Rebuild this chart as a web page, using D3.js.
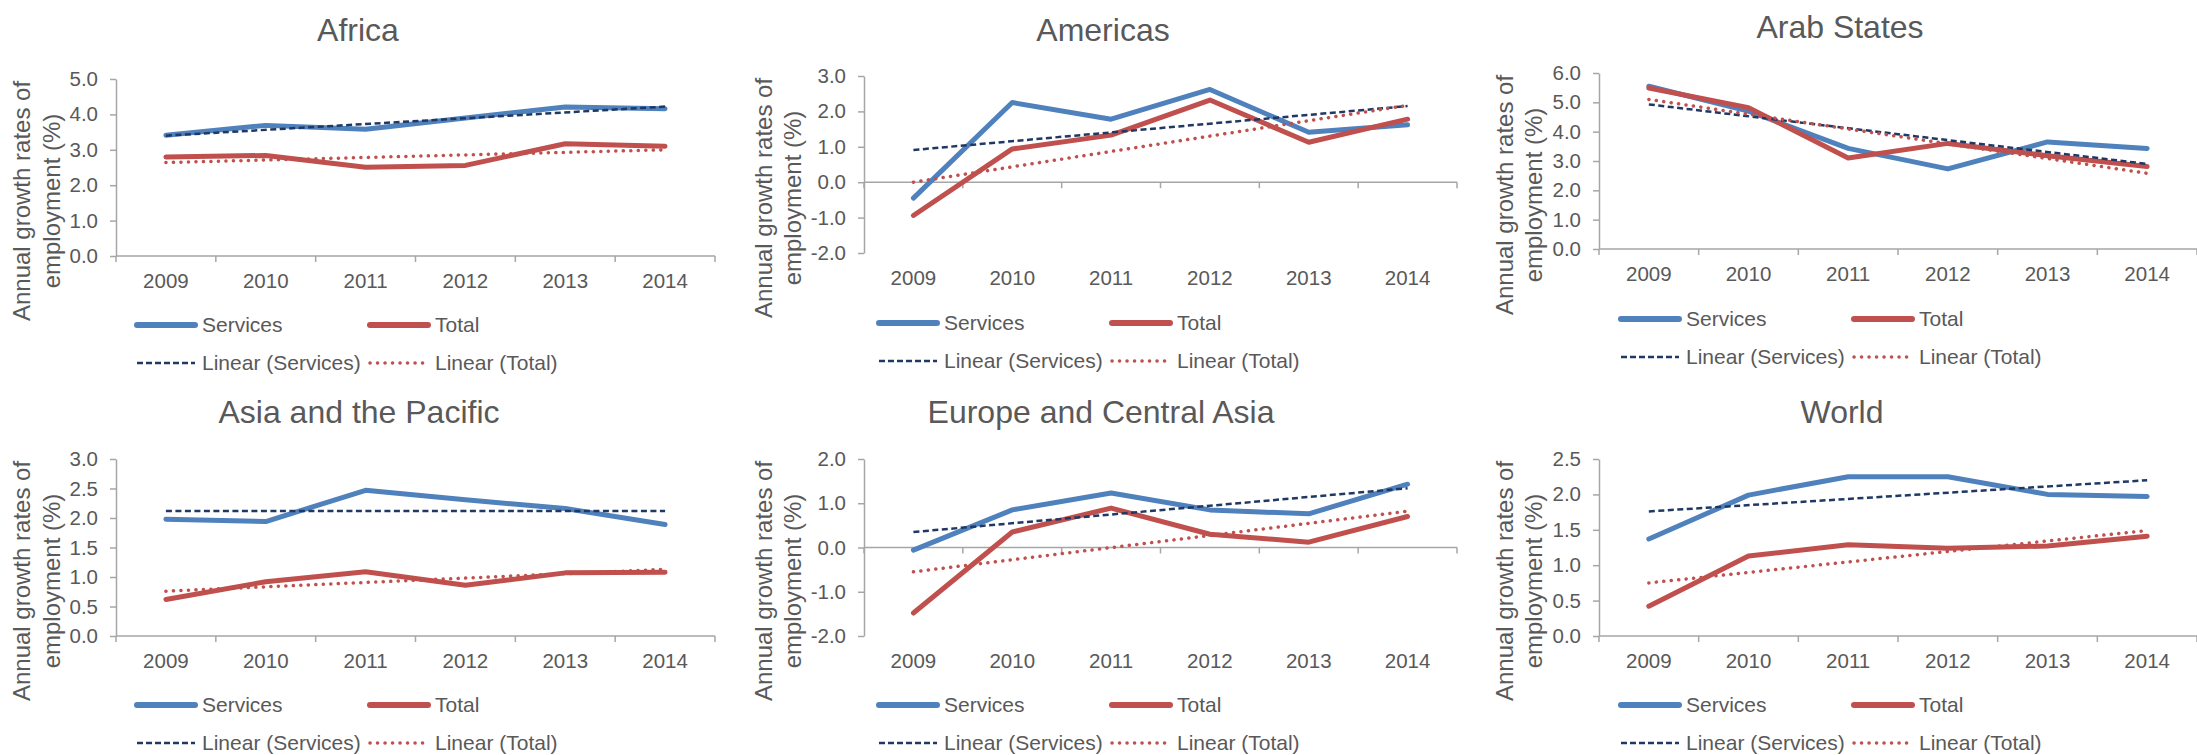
<!DOCTYPE html>
<html>
<head>
<meta charset="utf-8">
<script src="https://cdn.jsdelivr.net/npm/d3@7/dist/d3.min.js"></script>
<style>
  body { margin: 0; background: #fff; }
  svg text { font-family: "Liberation Sans", Arial, sans-serif; fill: #595959; }
</style>
</head>
<body>
<div id="chart"></div>
<script>
// categories
const years = ["2009", "2010", "2011", "2012", "2013", "2014"];
const regions = ["Africa", "Americas", "Arab States", "Asia and the Pacific", "Europe and Central Asia", "World"];
const seriesNames = ["Services", "Total", "Linear (Services)", "Linear (Total)"];

// values (%)
const africaServices = [3.41, 3.69, 3.58, 3.90, 4.21, 4.16];
const africaTotal = [2.80, 2.84, 2.51, 2.56, 3.17, 3.10];
const africaTrendServices = [3.40, 4.22];
const africaTrendTotal = [2.64, 3.00];

const americasServices = [-0.45, 2.25, 1.78, 2.62, 1.41, 1.62];
const americasTotal = [-0.94, 0.94, 1.33, 2.32, 1.13, 1.78];
const americasTrendServices = [0.91, 2.15];
const americasTrendTotal = [0.00, 2.17];

const arabServices = [5.55, 4.70, 3.43, 2.73, 3.65, 3.43];
const arabTotal = [5.49, 4.82, 3.10, 3.60, 3.18, 2.81];
const arabTrendServices = [4.93, 2.90];
const arabTrendTotal = [5.10, 2.58];

const asiaServices = [1.98, 1.94, 2.47, 2.31, 2.16, 1.89];
const asiaTotal = [0.62, 0.92, 1.09, 0.86, 1.07, 1.08];
const asiaTrendServices = [2.12, 2.12];
const asiaTrendTotal = [0.76, 1.13];

const europeServices = [-0.06, 0.85, 1.23, 0.85, 0.76, 1.43];
const europeTotal = [-1.48, 0.35, 0.89, 0.30, 0.12, 0.70];
const europeTrendServices = [0.35, 1.34];
const europeTrendTotal = [-0.55, 0.82];

const worldServices = [1.37, 1.99, 2.25, 2.25, 2.00, 1.97];
const worldTotal = [0.42, 1.13, 1.29, 1.24, 1.27, 1.41];
const worldTrendServices = [1.76, 2.20];
const worldTrendTotal = [0.75, 1.49];

// y ticks per panel
const africaTicks = [0, 1, 2, 3, 4, 5];
const americasTicks = [-2, -1, 0, 1, 2, 3];
const arabTicks = [0, 1, 2, 3, 4, 5, 6];
const asiaTicks = [0, 0.5, 1, 1.5, 2, 2.5, 3];
const europeTicks = [-2, -1, 0, 1, 2];
const worldTicks = [0, 0.5, 1, 1.5, 2, 2.5];

const yTitle = ["Annual growth rates of", "employment (%)"];

const colServices = "#4f81bd";
const colTotal = "#c0504d";
const colTrendServices = "#1f3864";

// panel geometry
const layout = [
    { x0: 116, x1: 715, yTop: 79, yBot: 256, titleX: 358, titleY: 30, legX: 135, legY: 325, ytOff: [94, 64] },
    { x0: 864, x1: 1457, yTop: 76, yBot: 253, titleX: 1103, titleY: 30, legX: 877, legY: 323, ytOff: [100, 71] },
    { x0: 1599, x1: 2197, yTop: 73, yBot: 249, titleX: 1840, titleY: 27, legX: 1619, legY: 319, ytOff: [94, 65] },
    { x0: 116, x1: 715, yTop: 459, yBot: 636, titleX: 359, titleY: 412, legX: 135, legY: 705, ytOff: [94, 64] },
    { x0: 864, x1: 1457, yTop: 459, yBot: 636, titleX: 1101, titleY: 412, legX: 877, legY: 705, ytOff: [100, 71] },
    { x0: 1599, x1: 2197, yTop: 459, yBot: 636, titleX: 1842, titleY: 412, legX: 1619, legY: 705, ytOff: [94, 65] }
];

const panels = [
    { services: africaServices, total: africaTotal, trendS: africaTrendServices, trendT: africaTrendTotal, ticks: africaTicks },
    { services: americasServices, total: americasTotal, trendS: americasTrendServices, trendT: americasTrendTotal, ticks: americasTicks },
    { services: arabServices, total: arabTotal, trendS: arabTrendServices, trendT: arabTrendTotal, ticks: arabTicks },
    { services: asiaServices, total: asiaTotal, trendS: asiaTrendServices, trendT: asiaTrendTotal, ticks: asiaTicks },
    { services: europeServices, total: europeTotal, trendS: europeTrendServices, trendT: europeTrendTotal, ticks: europeTicks },
    { services: worldServices, total: worldTotal, trendS: worldTrendServices, trendT: worldTrendTotal, ticks: worldTicks }
];

const svg = d3.select("#chart").append("svg")
    .attr("width", 2197)
    .attr("height", 755);

function drawPanel(p, L, name) {
    const g = svg.append("g");

    const x = d3.scaleBand().domain(years).range([L.x0, L.x1]).paddingInner(0).paddingOuter(0);
    const y = d3.scaleLinear().domain(d3.extent(p.ticks)).range([L.yBot, L.yTop]);
    const cx = d => x(d) + x.bandwidth() / 2;

    // title
    g.append("text")
        .attr("x", L.titleX).attr("y", L.titleY).attr("dy", "0.35em")
        .attr("text-anchor", "middle")
        .style("font-size", "32px")
        .text(name);

    // y axis title, two lines
    const ytY = L.yTop + 122;
    yTitle.forEach((t, i) => {
        g.append("text")
            .attr("transform", `translate(${L.x0 - L.ytOff[i]},${ytY}) rotate(-90)`)
            .attr("dy", "0.35em")
            .attr("text-anchor", "middle")
            .style("font-size", "24px")
            .text(t);
    });

    // y axis
    const yAxis = g.append("g")
        .attr("transform", `translate(${L.x0},0)`)
        .call(d3.axisLeft(y).tickValues(p.ticks).tickSizeInner(6).tickSizeOuter(0).tickPadding(12)
            .tickFormat(d => d.toFixed(1)));
    yAxis.select(".domain").attr("stroke", "#a6a6a6").attr("stroke-width", 1.5);
    yAxis.selectAll(".tick line").attr("stroke", "#a6a6a6").attr("stroke-width", 1.5);
    yAxis.selectAll(".tick text").style("font-size", "20.5px").attr("fill", "#595959");

    // x axis line at zero with ticks at category boundaries
    const y0 = y(0);
    const bounds = years.map(d => x(d)).concat([L.x1]);
    g.append("line")
        .attr("x1", L.x0).attr("x2", L.x1).attr("y1", y0).attr("y2", y0)
        .attr("stroke", "#a6a6a6").attr("stroke-width", 1.5);
    g.selectAll(".xtick").data(bounds).join("line")
        .attr("class", "xtick")
        .attr("x1", d => d).attr("x2", d => d)
        .attr("y1", y0).attr("y2", y0 + 6)
        .attr("stroke", "#a6a6a6").attr("stroke-width", 1.5);

    // x labels at the bottom of the plot
    const xAxis = g.append("g")
        .attr("transform", `translate(0,${L.yBot})`)
        .call(d3.axisBottom(x).tickSize(0).tickPadding(17));
    xAxis.select(".domain").remove();
    xAxis.selectAll(".tick text").style("font-size", "20.5px").attr("fill", "#595959");

    // data lines
    const line = d3.line().x((d, i) => cx(years[i])).y(d => y(d));
    g.append("path").datum(p.services)
        .attr("d", line).attr("fill", "none")
        .attr("stroke", colServices).attr("stroke-width", 5)
        .attr("stroke-linejoin", "round").attr("stroke-linecap", "round");
    g.append("path").datum(p.total)
        .attr("d", line).attr("fill", "none")
        .attr("stroke", colTotal).attr("stroke-width", 5)
        .attr("stroke-linejoin", "round").attr("stroke-linecap", "round");

    // trend lines, from first to last year
    const trend = d3.line().x((d, i) => cx(years[i === 0 ? 0 : years.length - 1])).y(d => y(d));
    g.append("path").datum(p.trendS)
        .attr("d", trend).attr("fill", "none")
        .attr("stroke", colTrendServices).attr("stroke-width", 2.5)
        .attr("stroke-dasharray", "6,3.5");
    g.append("path").datum(p.trendT)
        .attr("d", trend).attr("fill", "none")
        .attr("stroke", colTotal).attr("stroke-width", 3.5)
        .attr("stroke-linecap", "round")
        .attr("stroke-dasharray", "0.1,7.4");

    // legend 2x2
    const legendItems = [
        { name: seriesNames[0], col: 0, row: 0, stroke: colServices, w: 6, dash: null, cap: "round" },
        { name: seriesNames[1], col: 1, row: 0, stroke: colTotal, w: 6, dash: null, cap: "round" },
        { name: seriesNames[2], col: 0, row: 1, stroke: colTrendServices, w: 2.5, dash: "6,3", cap: "butt" },
        { name: seriesNames[3], col: 1, row: 1, stroke: colTotal, w: 3.5, dash: "0.1,7.4", cap: "round" }
    ];
    const leg = g.append("g");
    legendItems.forEach(it => {
        const lx = L.legX + it.col * 233;
        const ly = L.legY + it.row * 38;
        leg.append("line")
            .attr("x1", lx + 2).attr("x2", lx + 60).attr("y1", ly).attr("y2", ly)
            .attr("stroke", it.stroke).attr("stroke-width", it.w)
            .attr("stroke-linecap", it.cap)
            .attr("stroke-dasharray", it.dash);
        leg.append("text")
            .attr("x", lx + 67).attr("y", ly).attr("dy", "0.35em")
            .style("font-size", "21px")
            .text(it.name);
    });
}

panels.forEach((p, i) => drawPanel(p, layout[i], regions[i]));
</script>
</body>
</html>
